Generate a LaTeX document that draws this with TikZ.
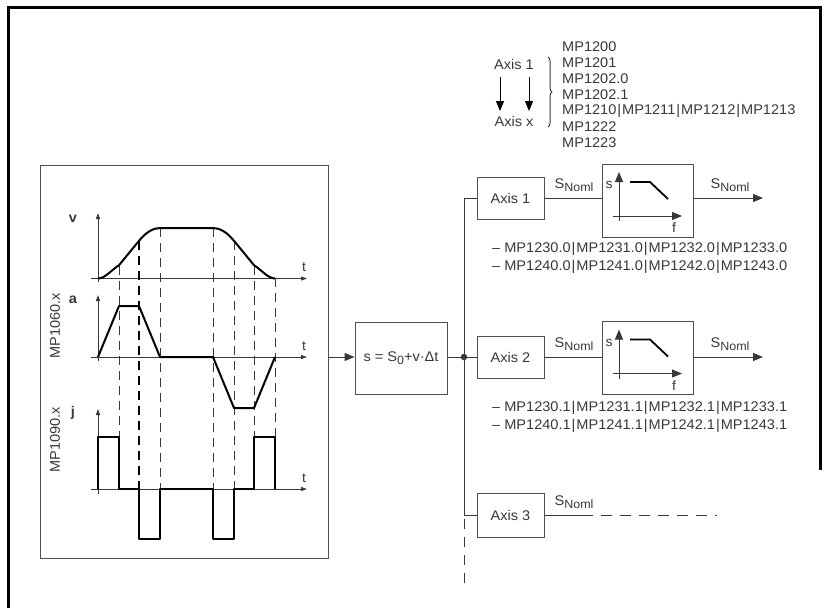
\documentclass[tikz,border=0pt]{standalone}
\usepackage{fontspec}
\setmainfont{Liberation Sans}[FakeStretch=1.04]
\usetikzlibrary{arrows.meta,decorations.pathreplacing}
\definecolor{ink}{HTML}{383838}
\definecolor{boxgray}{HTML}{505050}
\newcommand{\lowtxt}[1]{\raisebox{-0.45ex}{\fontsize{12}{12}\selectfont #1}}
\newcommand{\vbar}{\kern1pt|\kern1pt}
\begin{document}
\begin{tikzpicture}[x=1pt,y=-1pt,
  every node/.style={text=ink, font=\fontsize{14}{16}\selectfont, inner sep=0pt},
  wire/.style={draw=ink, line width=1pt},
  curve/.style={draw=black, line width=2pt, line join=round},
  guide/.style={draw=ink, line width=0.9pt, dash pattern=on 9pt off 6pt},
  guidebold/.style={draw=black, line width=1.8pt, dash pattern=on 9pt off 6pt},
  arr/.style={-{Triangle[length=10pt,width=8pt]}},
  sarr/.style={-{Triangle[length=6pt,width=4pt]}},
  blk/.style={draw=boxgray, line width=1pt, fill=white},
  lbl/.style={font=\bfseries\fontsize{14}{15}\selectfont},
  tl/.style={font=\fontsize{13.5}{14}\selectfont}
]
\useasboundingbox (0,0) rectangle (829,608);
% outer frame
\draw[line width=2.5pt] (8.5,608) -- (8.5,7.5) -- (820.5,7.5) -- (820.5,470);
% left panel
\draw[draw=boxgray, line width=1pt] (40,165) rectangle (328,558);
% guides
\draw[guide] (119,266) -- (119,437);
\draw[guidebold] (139,241) -- (139,489);
\draw[guide] (160,228) -- (160,489);
\draw[guide] (213,228) -- (213,489);
\draw[guide] (234,241) -- (234,489);
\draw[guide] (254,266) -- (254,437);
\draw[guide] (275,278) -- (275,437);
% axes
\draw[wire, sarr] (98,282) -- (98,213);
\draw[wire, sarr] (91,278.5) -- (307,278.5);
\draw[wire, sarr] (98,361) -- (98,295);
\draw[wire, sarr] (91,357) -- (307,357);
\draw[wire, sarr] (98,494) -- (98,409);
\draw[wire, sarr] (91,489) -- (307,489);
\node[lbl] (lv) at (73,219) {v};
\node[lbl] (la) at (73,300) {a};
\node[lbl] (lj) at (73,413) {j};
\node[tl] (t1) at (304,267) {t};
\node[tl] (t2) at (304,346) {t};
\node[tl] (t3) at (304,478) {t};
\node[rotate=90] (m1) at (55,326) {MP1060.x};
\node[rotate=90] (m2) at (55,440) {MP1090.x};
% curves
\draw[curve] (98,278.5) .. controls (105,278.5) and (112,269.5) .. (119,265.2) -- (139,240.8)
  .. controls (146,232.3) and (153,228) .. (160,228) -- (213,228)
  .. controls (220,228) and (227,232.3) .. (234,240.8) -- (254,265.2)
  .. controls (261,269.5) and (268,278.5) .. (275,278.5);
\draw[curve] (98,357) -- (119,306) -- (139,306) -- (160,357) -- (213,357) -- (234,408) -- (254,408) -- (275,357);
\draw[curve] (98,489) -- (98,437) -- (119,437) -- (119,489) -- (139,489) -- (139,539) -- (160,539) -- (160,489)
  -- (213,489) -- (213,539) -- (234,539) -- (234,489) -- (254,489) -- (254,437) -- (275,437) -- (275,489);
% calc box
\node[blk, minimum width=92pt, minimum height=72pt] (calc) at (401,358) {s = S\lowtxt{0}+v·Δt};
\coordinate (pin) at (328,357);
\draw[wire, arr] (pin) -- (calc.west |- pin);
\node[circle, fill=ink, minimum size=6.5pt] (jn) at (464,357) {};
\draw[wire] (calc.east |- jn) -- (jn);
% axis boxes
\node[blk, minimum width=67pt, minimum height=42pt] (ax1) at (510.5,198) {Axis 1};
\node[blk, minimum width=67pt, minimum height=42pt] (ax2) at (510.5,357) {Axis 2};
\node[blk, minimum width=67pt, minimum height=44pt] (ax3) at (510.5,515) {Axis 3};
\coordinate (bt) at (464,198);
\coordinate (bb) at (464,515);
\coordinate (be) at (464,585);
\draw[wire] (bt) -- (bb);
\draw[wire, dash pattern=on 10pt off 8pt] (bb) ++(0,4) -- (be);
\draw[wire] (bt) -- (ax1.west);
\draw[wire] (jn) -- (ax2.west);
\draw[wire] (bb) -- (ax3.west);
% filters
\node[blk, minimum width=91pt, minimum height=73pt] (f1) at (647.5,200.5) {};
\node[blk, minimum width=91pt, minimum height=73pt] (f2) at (647.5,358) {};
\foreach \fy in {164,321.5}{
  \begin{scope}[shift={(602,\fy)}]
    \draw[wire, arr] (17,57) -- (17,8);
    \draw[wire, arr] (11,52) -- (80,52);
    \draw[black, line width=1.8pt] (28,18) -- (48,18) -- (66,35);
    \node[tl] at (7,21) {s};
    \node[tl] at (72,64) {f};
  \end{scope}
}
\draw[wire] (ax1.east) -- (f1.west |- ax1.east);
\draw[wire] (ax2.east) -- (f2.west |- ax2.east);
\coordinate (o1) at (763,198);
\coordinate (o2) at (763,357);
\draw[wire, arr] (f1.east |- o1) -- (o1);
\draw[wire, arr] (f2.east |- o2) -- (o2);
\coordinate (d3) at (593,515);
\coordinate (e3) at (717,515);
\draw[wire] (ax3.east) -- (d3);
\draw[wire, dash pattern=on 11pt off 8pt] (d3) ++(8,0) -- (e3);
% S_Noml labels
\node (s1) at (574,185) {S\lowtxt{Noml}};
\node (s2) at (730,185) {S\lowtxt{Noml}};
\node (s3) at (574,344) {S\lowtxt{Noml}};
\node (s4) at (730,344) {S\lowtxt{Noml}};
\node (s5) at (574,502) {S\lowtxt{Noml}};
% parameter lines
\node[anchor=west] (p1) at (492,249) {– MP1230.0\vbar MP1231.0\vbar MP1232.0\vbar MP1233.0};
\node[anchor=west] (p2) at (492,267) {– MP1240.0\vbar MP1241.0\vbar MP1242.0\vbar MP1243.0};
\node[anchor=west] (p3) at (492,408) {– MP1230.1\vbar MP1231.1\vbar MP1232.1\vbar MP1233.1};
\node[anchor=west] (p4) at (492,426) {– MP1240.1\vbar MP1241.1\vbar MP1242.1\vbar MP1243.1};
% legend
\node (lg1) at (514,64) {Axis 1};
\node (lg2) at (514,121) {Axis x};
\draw[draw=black, line width=1pt, arr] (500,77) -- (500,111);
\draw[draw=black, line width=1pt, arr] (529,77) -- (529,111);
\draw[draw=ink, line width=1pt, decorate, decoration={brace, amplitude=4pt}] (548,57) -- (548,127);
\node[anchor=west] (q1) at (562,47) {MP1200};
\node[anchor=west] (q2) at (562,63) {MP1201};
\node[anchor=west] (q3) at (562,79) {MP1202.0};
\node[anchor=west] (q4) at (562,95) {MP1202.1};
\node[anchor=west] (q5) at (562,111) {MP1210\vbar MP1211\vbar MP1212\vbar MP1213};
\node[anchor=west] (q6) at (562,127) {MP1222};
\node[anchor=west] (q7) at (562,143) {MP1223};
\end{tikzpicture}
\end{document}
